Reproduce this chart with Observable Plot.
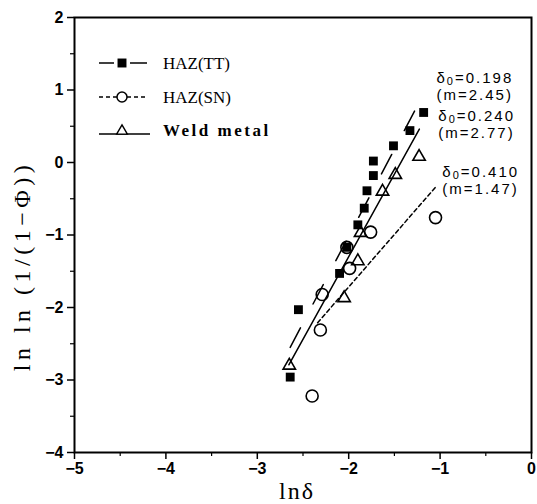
<!DOCTYPE html>
<html><head><meta charset="utf-8">
<script src="https://cdn.jsdelivr.net/npm/d3@7"></script>
<script src="https://cdn.jsdelivr.net/npm/@observablehq/plot@0.6"></script>
<style>
body{margin:0;background:#fff;}
</style>
</head><body><div id="chart"></div>
<script>
// HAZ(TT) – filled squares
const ttX = [-1.18, -1.33, -1.51, -1.73, -1.73, -1.80, -1.83, -1.90, -2.02, -2.10, -2.55, -2.64];
const ttY = [0.69, 0.44, 0.23, 0.02, -0.18, -0.39, -0.63, -0.86, -1.17, -1.53, -2.03, -2.96];
// HAZ(SN) – open circles
const snX = [-1.05, -1.76, -2.02, -1.99, -2.29, -2.31, -2.40];
const snY = [-0.76, -0.96, -1.17, -1.46, -1.82, -2.31, -3.22];
// Weld metal – open triangles
const wmX = [-1.23, -1.49, -1.63, -1.87, -1.90, -2.05, -2.65];
const wmY = [0.08, -0.17, -0.40, -0.97, -1.36, -1.87, -2.80];
// fitted lines (end points)
const ttLineX = [-2.64, -1.20];
const ttLineY = [-2.55, 0.90];
const snLineX = [-2.34, -1.05];
const snLineY = [-2.21, -0.34];
const wmLineX = [-2.655, -1.227];
const wmLineY = [-2.79, 0.46];
// annotations
const annX = [-1.04, -1.02, -0.976];
const annY = [1.058, 0.527, -0.246];
const annDelta = ["0.198", "0.240", "0.410"];
const annM = ["2.45", "2.77", "1.47"];
// ticks & labels
const xTicks = [-5, -4, -3, -2, -1, 0];
const yTicks = [-4, -3, -2, -1, 0, 1, 2];
const xMinor = [-4.5, -3.5, -2.5, -1.5, -0.5];
const yMinor = [-3.5, -2.5, -1.5, -0.5, 0.5, 1.5];
const xLabel = "lnδ";
const yLabel = "ln ln (1/(1−Φ))";
const legendLabels = ["HAZ(TT)", "HAZ(SN)", "Weld metal"];

const pts = (xs, ys) => xs.map((x, i) => ({x, y: ys[i]}));
const tt = pts(ttX, ttY), sn = pts(snX, snY), wm = pts(wmX, wmY);
const ann = annDelta.map((d, i) => ({x: annX[i], y: annY[i], t: `δ₀=${d}\n(m=${annM[i]})`, d}));
const fmt = d => (d < 0 ? "−" + Math.abs(d) : String(d));

const W = 537, H = 504, ML = 74, MR = 6, MT = 17, MB = 52;
const sans = "Liberation Sans, Arial, Helvetica, sans-serif";
const serif = "Liberation Serif, Times New Roman, serif";

const svg = Plot.plot({
  width: W, height: H,
  marginLeft: ML, marginRight: MR, marginTop: MT, marginBottom: MB,
  style: {fontFamily: sans, fontSize: "16px", background: "#fff", color: "#000"},
  x: {domain: [-5, 0], label: null},
  y: {domain: [-4, 2], label: null},
  marks: [
    Plot.axisX(xTicks, {tickSize: 7, tickPadding: 3, fontSize: 16, fontWeight: "bold", fontFamily: sans, strokeWidth: 1.5, tickFormat: fmt, label: null}),
    Plot.axisX(xMinor, {tickSize: 4, tickFormat: () => "", strokeWidth: 1.2, label: null}),
    Plot.axisY(yTicks, {tickSize: 7, tickPadding: 4, fontSize: 16, fontWeight: "bold", fontFamily: sans, strokeWidth: 1.5, tickFormat: fmt, label: null}),
    Plot.axisY(yMinor, {tickSize: 4, tickFormat: () => "", strokeWidth: 1.2, label: null}),
    Plot.frame({stroke: "#000", strokeWidth: 2}),
    Plot.line(pts(ttLineX, ttLineY), {x: "x", y: "y", stroke: "#000", strokeWidth: 1.5, strokeDasharray: "22,27"}),
    Plot.line(pts(snLineX, snLineY), {x: "x", y: "y", stroke: "#000", strokeWidth: 1.5, strokeDasharray: "4,3"}),
    Plot.line(pts(wmLineX, wmLineY), {x: "x", y: "y", stroke: "#000", strokeWidth: 1.5}),
    Plot.dot(sn, {x: "x", y: "y", r: 6, stroke: "#000", strokeWidth: 1.6, fill: "none"}),
    Plot.dot(wm, {x: "x", y: "y", r: 4.6, symbol: "triangle", stroke: "#000", strokeWidth: 1.6, fill: "none"}),
    Plot.dot(tt, {x: "x", y: "y", r: 5, symbol: "square", fill: "#000", stroke: "none"}),
    Plot.text(ann, {x: "x", y: "y", text: "t", textAnchor: "start", lineAnchor: "middle", lineHeight: 1.15, fontSize: 15, fontFamily: sans, fill: "#000"})
  ]
});

const S = d3.select(svg);
// annotation text: letter spacing and a real subscript (sibling tspans)
S.selectAll("text").each(function() {
  const t = this.textContent;
  if (!t.startsWith("δ₀")) return;
  this.setAttribute("letter-spacing", "2");
  const first = this.querySelector("tspan");
  if (!first) return;
  const rest = first.textContent.slice(2);
  first.textContent = "δ";
  const ns = "http://www.w3.org/2000/svg";
  const sub = document.createElementNS(ns, "tspan");
  sub.setAttribute("font-size", "11"); sub.setAttribute("dy", "2"); sub.textContent = "0";
  const tail = document.createElementNS(ns, "tspan");
  tail.setAttribute("dy", "-2"); tail.textContent = rest;
  first.after(sub, tail);
});

// axis titles
S.append("text").attr("x", 297).attr("y", 491).attr("dy", "0.35em").attr("text-anchor", "middle")
  .attr("font-family", serif).attr("font-size", 24).attr("letter-spacing", 2).attr("fill", "#000").text(xLabel);
S.append("text").attr("transform", "translate(22,266) rotate(-90)").attr("dy", "0.35em").attr("text-anchor", "middle")
  .attr("font-family", serif).attr("font-size", 24).attr("letter-spacing", 4.5).attr("fill", "#000").text(yLabel);

// legend (inside the frame, top-left)
const lg = S.append("g").attr("stroke", "#000").attr("fill", "none");
const lx0 = ML + 25, lx1 = ML + 73, lm = ML + 48, tx = ML + 89;
const rows = [63, 97, 130];
// HAZ(TT)
lg.append("line").attr("x1", lx0).attr("x2", lm - 8).attr("y1", rows[0]).attr("y2", rows[0]).attr("stroke-width", 1.5);
lg.append("line").attr("x1", lm + 8).attr("x2", lx1).attr("y1", rows[0]).attr("y2", rows[0]).attr("stroke-width", 1.5);
lg.append("path").attr("d", d3.symbol(d3.symbolSquare, 80)()).attr("transform", `translate(${lm},${rows[0]})`).attr("fill", "#000").attr("stroke", "none");
// HAZ(SN)
lg.append("line").attr("x1", lx0).attr("x2", lx1).attr("y1", rows[1]).attr("y2", rows[1]).attr("stroke-width", 1.5).attr("stroke-dasharray", "4,3");
lg.append("circle").attr("cx", lm).attr("cy", rows[1]).attr("r", 5).attr("fill", "#fff").attr("stroke-width", 1.5);
// Weld metal
lg.append("line").attr("x1", lx0).attr("x2", lx1 + 3).attr("y1", rows[2] + 4).attr("y2", rows[2] + 4).attr("stroke-width", 1.5);
lg.append("path").attr("d", d3.symbol(d3.symbolTriangle, 50)()).attr("transform", `translate(${lm},${rows[2] + 1})`).attr("fill", "#fff").attr("stroke-width", 1.4);
const fonts = [["normal", 0], ["normal", 0], ["bold", 2.5]];
legendLabels.forEach((s, i) => {
  S.append("text").attr("x", tx).attr("y", rows[i]).attr("dy", "0.35em").attr("text-anchor", "start")
    .attr("font-family", serif).attr("font-weight", fonts[i][0]).attr("letter-spacing", fonts[i][1])
    .attr("font-size", 17).attr("fill", "#000").text(s);
});

document.getElementById("chart").appendChild(svg);
</script>
</body></html>
